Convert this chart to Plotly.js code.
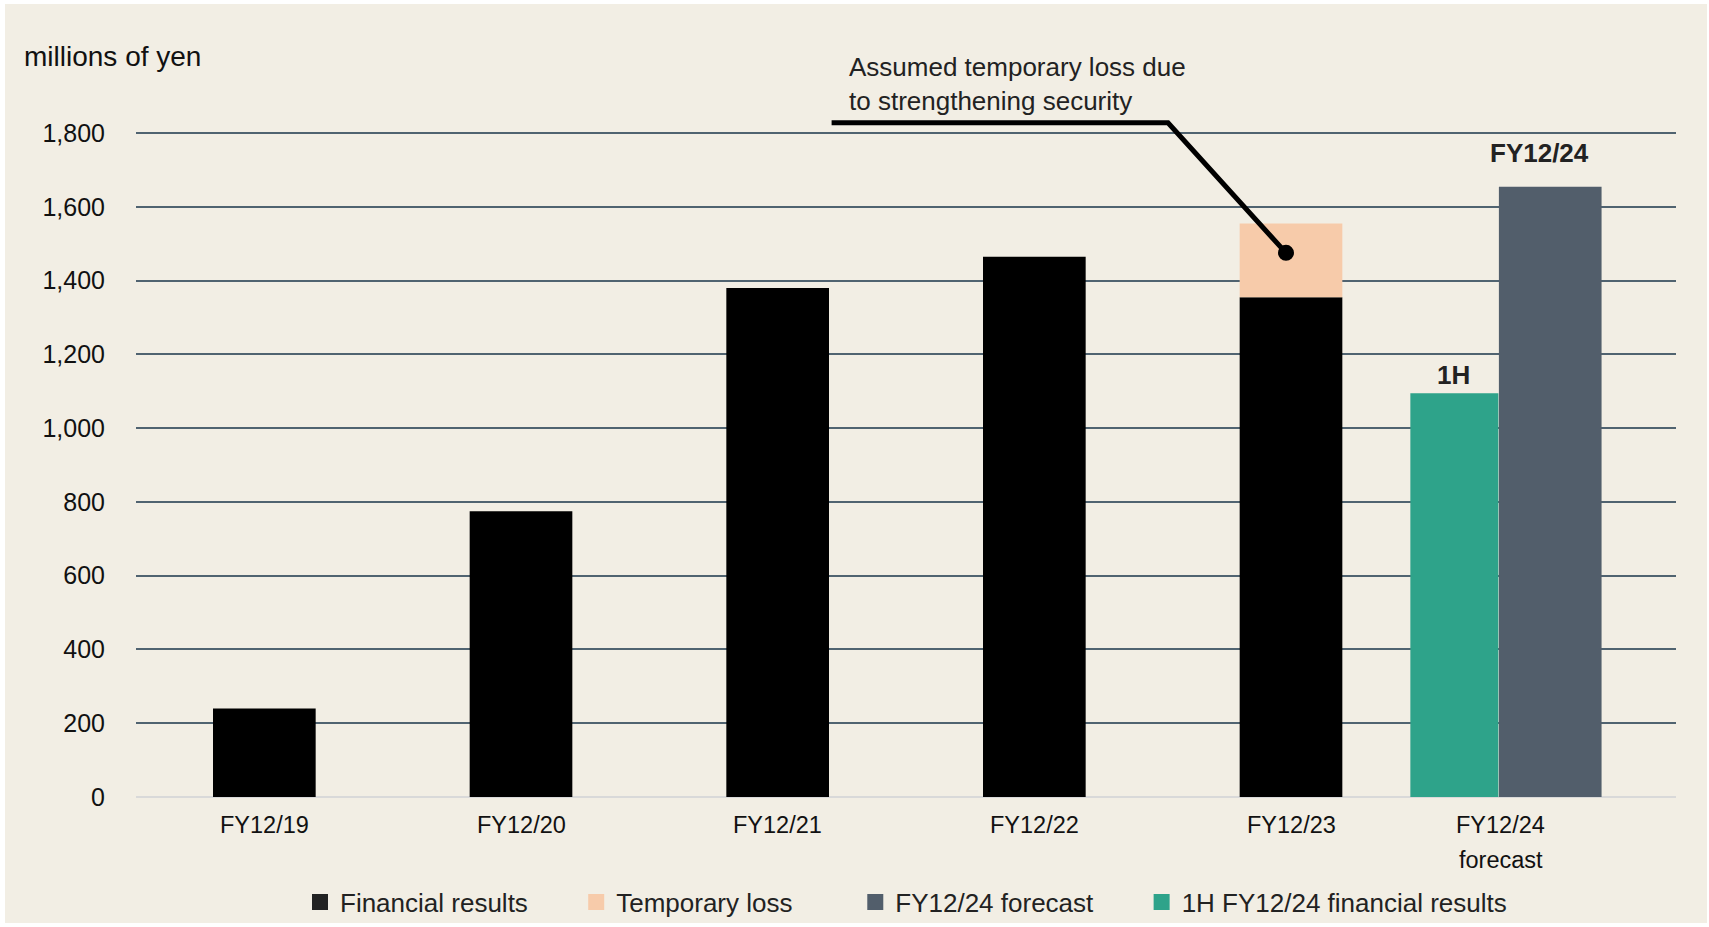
<!DOCTYPE html>
<html>
<head>
<meta charset="utf-8">
<script src="https://cdn.plot.ly/plotly-3.0.1.min.js"></script>
<style>
  html, body { margin: 0; padding: 0; background: #FFFFFF; }
  #chart { position: absolute; left: 5px; top: 4px; width: 1702px; height: 919px; }
</style>
</head>
<body>
<div id="chart"></div>
<script>
// ---- data ----
const categories = ["FY12/19", "FY12/20", "FY12/21", "FY12/22", "FY12/23", "FY12/24<br>forecast"];
const financialResults = [240, 775, 1380, 1465, 1355, null];
const temporaryLoss = [null, null, null, null, 200, null];
const fy24Forecast = [null, null, null, null, null, 1655];
const firstHalf24 = [null, null, null, null, null, 1095];
const yTicks = [0, 200, 400, 600, 800, 1000, 1200, 1400, 1600, 1800];
const yTickLabels = ["0", "200", "400", "600", "800", "1,000", "1,200", "1,400", "1,600", "1,800"];
const seriesNames = ["Financial results", "Temporary loss", "FY12/24 forecast", "1H FY12/24 financial results"];
const barLabels = ["1H", "FY12/24"];
const calloutText = "Assumed temporary loss due<br>to strengthening security";
const unitLabel = "millions of yen";

// ---- styles ----
const C_BLACK = "#000000";
const C_LEGEND_BLACK = "#222222";
const C_LOSS = "#F7CBAA";
const C_FORECAST = "#525E6B";
const C_TEAL = "#2EA38A";
const FONT = "Liberation Sans, Arial, sans-serif";
const NB = "\u00A0";
const legendPad = [6, 8, 6, 0];

const lossBase = financialResults.map((v, i) => (temporaryLoss[i] == null ? null : v));
const legendColors = [C_LEGEND_BLACK, C_LOSS, C_FORECAST, C_TEAL];

const traces = [
  { type: "bar", x: categories, y: financialResults, marker: { color: C_BLACK }, width: 0.4, offset: -0.2, showlegend: false, hoverinfo: "skip" },
  { type: "bar", x: categories, y: temporaryLoss, base: lossBase, marker: { color: C_LOSS }, width: 0.4, offset: -0.2, showlegend: false, hoverinfo: "skip" },
  { type: "bar", x: categories, y: firstHalf24, marker: { color: C_TEAL }, width: 0.343, offset: -0.535, showlegend: false, hoverinfo: "skip" },
  { type: "bar", x: categories, y: fy24Forecast, marker: { color: C_FORECAST }, width: 0.4, offset: -0.19, showlegend: false, hoverinfo: "skip" }
].concat(seriesNames.map((n, i) => ({
  type: "scatter", mode: "markers", x: [null], y: [null],
  name: n + NB.repeat(legendPad[i]),
  marker: { symbol: "square", size: 16, color: legendColors[i] }
})));

// plot area in page pixels: x 136..1676; y: value 0 at 797, value 1800 at 133.4
const Y_MAX = 1806;
const L = 136, R = 1676, B = 797;
const ppu = (797 - 133.4) / 1800;
const T = B - Y_MAX * ppu;
const px = (x) => (x - L) / (R - L);
const py = (y) => (B - y) / (B - T);

const xLabelShift = [0, 0, 0, 0, 0, -47];
const xLabelAnnots = [];
categories.forEach((c, i) => {
  c.split("<br>").forEach((line, j) => {
    xLabelAnnots.push({
      text: line, xref: "x", yref: "y", x: c, y: 0, xanchor: "center", yanchor: "top",
      yshift: -13 - j * 35, xshift: xLabelShift[i], showarrow: false,
      font: { family: FONT, size: 23.5, color: "#111111" }
    });
  });
});

const layout = {
  width: 1702, height: 919,
  margin: { l: L - 5, r: 1707 - R, t: T - 4, b: 923 - B, pad: 0 },
  paper_bgcolor: "#F2EEE4",
  plot_bgcolor: "#F2EEE4",
  font: { family: FONT, color: "#111111" },
  barmode: "overlay",
  showlegend: true,
  legend: {
    orientation: "h", x: 0.5, xanchor: "center", xref: "paper",
    y: 1 - (902 - 4) / 919, yanchor: "middle", yref: "container",
    font: { family: FONT, size: 26, color: "#222222" },
    bgcolor: "rgba(0,0,0,0)", traceorder: "normal"
  },
  xaxis: {
    type: "category", categoryorder: "array", categoryarray: categories,
    range: [-0.5, 5.5], showgrid: false, zeroline: false, showline: false,
    showticklabels: false, ticks: "", automargin: false,
    fixedrange: true
  },
  yaxis: {
    range: [0, Y_MAX], tickvals: yTicks, ticktext: yTickLabels,
    showgrid: true, gridcolor: "#506370", gridwidth: 2,
    zeroline: true, zerolinecolor: "#D9D9D9", zerolinewidth: 2,
    showline: false, ticks: "", ticklabelstandoff: 30, automargin: false,
    tickfont: { family: FONT, size: 25, color: "#111111" },
    fixedrange: true
  },
  shapes: [
    { type: "path", xref: "paper", yref: "paper",
      path: `M ${px(831.6)} ${py(123)} L ${px(1168)} ${py(123)} L ${px(1286)} ${py(253)}`,
      line: { color: "#000000", width: 5 }, layer: "above" },
    { type: "circle", xref: "paper", yref: "paper",
      x0: px(1278), x1: px(1294), y0: py(261), y1: py(245),
      fillcolor: "#000000", line: { color: "#000000", width: 0 }, layer: "above" }
  ],
  annotations: [
    { text: unitLabel, xref: "paper", yref: "paper", x: px(22), y: py(57), xanchor: "left", yanchor: "middle",
      showarrow: false, font: { family: FONT, size: 28, color: "#111111" } },
    { text: calloutText, xref: "paper", yref: "paper", x: px(847), y: py(84.4), xanchor: "left", yanchor: "middle",
      align: "left", showarrow: false, font: { family: FONT, size: 26, color: "#222222" } },
    { text: "<b>" + barLabels[0] + "</b>", xref: "x", yref: "y", x: categories[5], y: firstHalf24[5],
      xshift: -94, yshift: 1, xanchor: "center", yanchor: "bottom", showarrow: false,
      font: { family: FONT, size: 26, color: "#222222" } },
    { text: "<b>" + barLabels[1] + "</b>", xref: "x", yref: "y", x: categories[5], y: fy24Forecast[5],
      xshift: -8, yshift: 17, xanchor: "center", yanchor: "bottom", showarrow: false,
      font: { family: FONT, size: 26, color: "#222222" } }
  ].concat(xLabelAnnots)
};

Plotly.newPlot("chart", traces, layout, { displayModeBar: false, responsive: false, staticPlot: true });
</script>
</body>
</html>
